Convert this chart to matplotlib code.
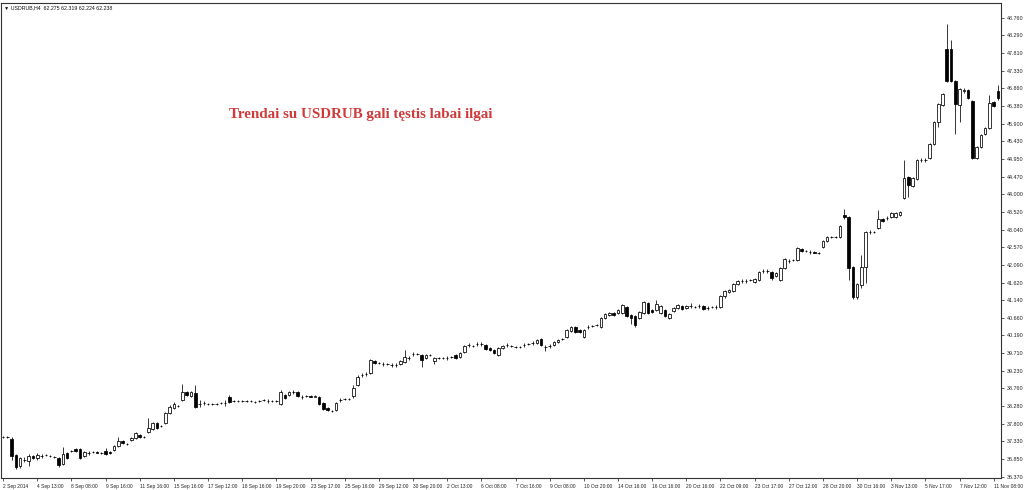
import numpy as np
import matplotlib
matplotlib.use("Agg")
import matplotlib.pyplot as plt

# Velas H4 USDRUB (preço)
aberturas = [
    37.45, 37.45, 37.39, 36.96, 36.66, 36.83, 36.80, 36.93, 36.88, 36.93,
    36.96, 36.94, 36.91, 36.88, 36.72, 37.02, 37.06, 37.12, 37.12, 36.93,
    37.02, 37.04, 37.04, 37.02, 37.07, 37.04, 37.10, 37.20, 37.34, 37.26,
    37.37, 37.42, 37.50, 37.45, 37.58, 37.66, 37.83, 37.74, 37.83, 38.10,
    38.23, 38.28, 38.45, 38.66, 38.55, 38.64, 38.34, 38.37, 38.34, 38.34,
    38.35, 38.37, 38.37, 38.53, 38.42, 38.42, 38.41, 38.42, 38.42, 38.39,
    38.42, 38.45, 38.42, 38.42, 38.42, 38.34, 38.58, 38.58, 38.66, 38.66,
    38.53, 38.55, 38.55, 38.54, 38.53, 38.37, 38.23, 38.15, 38.18, 38.45,
    38.47, 38.47, 38.55, 38.85, 39.12, 39.15, 39.18, 39.50, 39.45, 39.42,
    39.42, 39.39, 39.39, 39.42, 39.47, 39.58, 39.69, 39.69, 39.66, 39.58,
    39.66, 39.50, 39.58, 39.58, 39.59, 39.61, 39.66, 39.61, 39.74, 39.93,
    39.90, 39.96, 39.96, 39.93, 39.85, 39.80, 39.66, 39.85, 39.93, 39.90,
    39.88, 39.88, 39.93, 39.96, 39.99, 39.99, 40.09, 39.88, 39.90, 39.93,
    40.01, 40.09, 40.15, 40.31, 40.42, 40.34, 40.15, 40.42, 40.44, 40.47,
    40.42, 40.66, 40.74, 40.80, 40.80, 40.80, 40.96, 40.74, 40.71, 40.66,
    40.80, 41.07, 40.88, 40.88, 40.80, 40.88, 40.66, 40.85, 40.93, 40.98,
    40.93, 40.98, 40.96, 40.98, 40.98, 40.93, 40.96, 40.96, 40.96, 41.25,
    41.36, 41.39, 41.58, 41.66, 41.66, 41.69, 41.63, 41.69, 41.93, 41.93,
    41.90, 41.79, 41.69, 42.01, 42.20, 42.23, 42.23, 42.52, 42.47, 42.44,
    42.44, 42.42, 42.58, 42.74, 42.85, 42.85, 42.85, 43.44, 43.39, 42.04,
    41.23, 41.55, 42.04, 42.98, 42.98, 43.09, 43.33, 43.36, 43.39, 43.39,
    43.44, 43.90, 44.47, 44.22, 44.41, 44.93, 44.93, 44.98, 45.36, 45.95,
    46.41, 47.92, 47.92, 47.06, 46.41, 46.79, 46.82, 46.52, 44.98, 45.28,
    45.63, 45.79, 46.49, 46.80,
]
maximas = [
    37.47, 37.47, 37.45, 36.99, 36.91, 36.91, 36.99, 36.96, 37.02, 36.99,
    36.98, 36.96, 36.93, 36.91, 37.18, 37.04, 37.09, 37.15, 37.15, 37.07,
    37.07, 37.06, 37.06, 37.04, 37.15, 37.06, 37.23, 37.45, 37.36, 37.28,
    37.45, 37.58, 37.53, 37.47, 37.96, 37.85, 37.85, 37.77, 38.12, 38.31,
    38.39, 38.31, 38.88, 38.69, 38.69, 38.85, 38.45, 38.42, 38.36, 38.37,
    38.37, 38.39, 38.45, 38.58, 38.44, 38.44, 38.44, 38.44, 38.44, 38.41,
    38.44, 38.47, 38.47, 38.44, 38.44, 38.72, 38.61, 38.69, 38.72, 38.69,
    38.58, 38.57, 38.57, 38.57, 38.56, 38.39, 38.25, 38.17, 38.39, 38.50,
    38.49, 38.50, 38.85, 39.12, 39.18, 39.20, 39.55, 39.53, 39.47, 39.47,
    39.44, 39.44, 39.45, 39.53, 39.80, 39.64, 39.74, 39.71, 39.69, 39.69,
    39.68, 39.61, 39.60, 39.61, 39.64, 39.63, 39.69, 39.74, 39.93, 39.99,
    39.92, 40.01, 40.01, 39.96, 39.88, 39.82, 39.88, 39.93, 39.98, 39.92,
    39.90, 39.90, 39.98, 39.98, 40.04, 40.09, 40.12, 39.92, 39.95, 40.04,
    40.09, 40.11, 40.37, 40.45, 40.45, 40.37, 40.37, 40.47, 40.46, 40.49,
    40.69, 40.80, 40.83, 40.83, 40.90, 41.04, 40.99, 40.77, 40.74, 40.85,
    41.12, 41.09, 40.90, 41.15, 41.01, 40.90, 40.80, 40.96, 41.04, 41.01,
    41.01, 41.07, 40.98, 41.03, 41.01, 40.98, 40.98, 41.01, 41.28, 41.42,
    41.45, 41.61, 41.69, 41.71, 41.72, 41.71, 41.74, 41.93, 41.98, 41.99,
    41.93, 41.90, 42.04, 42.28, 42.25, 42.25, 42.58, 42.55, 42.49, 42.49,
    42.46, 42.44, 42.77, 42.88, 42.87, 42.88, 43.17, 43.60, 43.41, 42.06,
    41.61, 42.36, 43.01, 43.04, 43.00, 43.58, 43.36, 43.41, 43.52, 43.52,
    43.55, 44.93, 44.49, 44.47, 44.95, 44.98, 44.99, 45.39, 45.98, 46.47,
    46.74, 48.60, 48.17, 47.09, 46.87, 46.87, 46.85, 46.55, 45.31, 45.63,
    45.82, 46.68, 46.52, 46.95,
]
minimas = [
    37.42, 37.42, 36.83, 36.58, 36.61, 36.77, 36.66, 36.85, 36.83, 36.88,
    36.94, 36.91, 36.89, 36.64, 36.69, 36.85, 37.04, 37.04, 36.85, 36.91,
    36.96, 37.02, 37.01, 36.99, 36.96, 37.00, 37.07, 37.18, 37.26, 37.24,
    37.34, 37.39, 37.42, 37.43, 37.56, 37.64, 37.66, 37.72, 37.80, 38.07,
    38.20, 38.26, 38.42, 38.55, 38.53, 38.23, 38.26, 38.31, 38.32, 38.32,
    38.32, 38.35, 38.28, 38.37, 38.40, 38.39, 38.39, 38.40, 38.39, 38.37,
    38.40, 38.43, 38.36, 38.40, 38.39, 38.31, 38.47, 38.55, 38.61, 38.53,
    38.47, 38.53, 38.52, 38.52, 38.31, 38.18, 38.15, 38.13, 38.15, 38.39,
    38.45, 38.45, 38.50, 38.82, 39.07, 39.10, 39.15, 39.42, 39.43, 39.36,
    39.40, 39.34, 39.34, 39.39, 39.45, 39.53, 39.64, 39.66, 39.34, 39.55,
    39.64, 39.42, 39.56, 39.56, 39.53, 39.59, 39.55, 39.58, 39.72, 39.88,
    39.88, 39.91, 39.90, 39.80, 39.77, 39.69, 39.64, 39.82, 39.88, 39.88,
    39.86, 39.85, 39.88, 39.94, 39.94, 39.96, 39.90, 39.77, 39.85, 39.90,
    39.99, 40.07, 40.12, 40.28, 40.25, 40.25, 40.12, 40.37, 40.42, 40.45,
    40.39, 40.63, 40.71, 40.71, 40.77, 40.77, 40.68, 40.50, 40.42, 40.63,
    40.77, 40.77, 40.79, 40.85, 40.77, 40.68, 40.63, 40.82, 40.90, 40.87,
    40.90, 40.93, 40.94, 40.93, 40.87, 40.88, 40.94, 40.91, 40.93, 41.20,
    41.33, 41.36, 41.55, 41.61, 41.61, 41.67, 41.61, 41.66, 41.88, 41.88,
    41.69, 41.76, 41.66, 41.98, 42.15, 42.21, 42.20, 42.44, 42.45, 42.39,
    42.41, 42.40, 42.55, 42.72, 42.83, 42.83, 42.82, 43.33, 41.69, 41.17,
    41.17, 41.47, 41.61, 42.93, 42.96, 43.06, 43.25, 43.31, 43.36, 43.36,
    43.41, 43.87, 43.93, 44.19, 44.39, 44.88, 44.88, 44.95, 45.33, 45.82,
    46.38, 47.03, 47.03, 45.63, 45.95, 46.74, 46.57, 44.95, 44.95, 45.25,
    45.60, 45.76, 46.36, 46.55,
]
fechamentos = [
    37.45, 37.44, 36.93, 36.64, 36.88, 36.82, 36.93, 36.88, 36.96, 36.94,
    36.96, 36.93, 36.91, 36.69, 36.99, 36.88, 37.07, 37.07, 36.88, 37.04,
    37.01, 37.04, 37.03, 37.01, 36.99, 37.02, 37.20, 37.34, 37.29, 37.26,
    37.42, 37.56, 37.45, 37.45, 37.69, 37.83, 37.69, 37.75, 38.10, 38.26,
    38.34, 38.28, 38.66, 38.58, 38.66, 38.26, 38.33, 38.36, 38.34, 38.35,
    38.34, 38.37, 38.36, 38.39, 38.42, 38.41, 38.42, 38.42, 38.41, 38.39,
    38.42, 38.45, 38.41, 38.42, 38.41, 38.66, 38.50, 38.66, 38.67, 38.55,
    38.52, 38.55, 38.54, 38.55, 38.34, 38.20, 38.18, 38.15, 38.37, 38.44,
    38.47, 38.48, 38.77, 39.07, 39.13, 39.15, 39.53, 39.45, 39.45, 39.41,
    39.42, 39.39, 39.40, 39.50, 39.61, 39.59, 39.69, 39.68, 39.53, 39.66,
    39.66, 39.58, 39.58, 39.59, 39.58, 39.61, 39.58, 39.72, 39.90, 39.94,
    39.90, 39.96, 39.95, 39.82, 39.80, 39.72, 39.85, 39.90, 39.93, 39.90,
    39.88, 39.87, 39.93, 39.96, 39.99, 40.07, 39.93, 39.87, 39.90, 40.01,
    40.07, 40.09, 40.34, 40.42, 40.28, 40.28, 40.34, 40.42, 40.44, 40.47,
    40.66, 40.77, 40.80, 40.74, 40.88, 41.01, 40.71, 40.66, 40.47, 40.82,
    41.09, 40.80, 40.82, 41.04, 40.98, 40.71, 40.77, 40.93, 41.01, 40.90,
    40.98, 40.99, 40.96, 40.98, 40.90, 40.93, 40.96, 40.97, 41.25, 41.39,
    41.42, 41.58, 41.66, 41.66, 41.67, 41.69, 41.71, 41.90, 41.93, 41.94,
    41.74, 41.88, 42.01, 42.25, 42.20, 42.23, 42.55, 42.47, 42.47, 42.44,
    42.43, 42.42, 42.74, 42.85, 42.85, 42.86, 43.14, 43.39, 42.01, 41.23,
    41.58, 42.04, 42.98, 42.99, 42.98, 43.33, 43.28, 43.36, 43.50, 43.50,
    43.52, 44.44, 44.25, 44.44, 44.93, 44.93, 44.94, 45.36, 45.95, 46.44,
    46.71, 47.06, 47.06, 46.44, 46.84, 46.82, 46.60, 44.98, 45.28, 45.60,
    45.79, 46.47, 46.38, 46.60,
]

# Escala de preços (eixo direito) e rótulos de tempo (a cada 8 barras)
niveis_preco = [36.370, 36.850, 37.330, 37.800, 38.280, 38.760, 39.230,
                39.710, 40.190, 40.660, 41.140, 41.620, 42.090, 42.570,
                43.040, 43.520, 44.000, 44.470, 44.950, 45.430, 45.900,
                46.380, 46.860, 47.330, 47.810, 48.290, 48.760]
rotulos_tempo = ["2 Sep 2014", "4 Sep 13:00", "8 Sep 08:00", "9 Sep 16:00",
                 "11 Sep 16:00", "15 Sep 16:00", "17 Sep 12:00", "18 Sep 16:00",
                 "19 Sep 20:00", "23 Sep 17:00", "25 Sep 16:00", "29 Sep 12:00",
                 "30 Sep 20:00", "2 Oct 13:00", "6 Oct 08:00", "7 Oct 16:00",
                 "9 Oct 08:00", "10 Oct 20:00", "14 Oct 16:00", "16 Oct 16:00",
                 "20 Oct 16:00", "22 Oct 09:00", "23 Oct 17:00", "27 Oct 12:00",
                 "28 Oct 20:00", "30 Oct 16:00", "3 Nov 13:00", "5 Nov 17:00",
                 "7 Nov 12:00", "11 Nov 08:00"]
barras_por_rotulo = 8

titulo = "Trendai su USDRUB gali tęstis labai ilgai"
cabecalho = "▼ USDRUB,H4  62.275 62.319 62.224 62.238"

fonte_eixo = ["Liberation Sans", "DejaVu Sans"]


def desenhar_velas(ax, o, h, l, c):
    o, h, l, c = map(np.asarray, (o, h, l, c))
    x = np.arange(len(o))
    ax.vlines(x, l, h, color="black", linewidth=0.55, zorder=1)
    alta = c >= o
    base = np.minimum(o, c)
    altura = np.maximum(np.abs(c - o), 0.004)
    cores = np.where(alta, "white", "black")
    ax.bar(x, altura, bottom=base, width=0.6, color=cores,
           edgecolor="black", linewidth=0.55, zorder=2)


fig = plt.figure(figsize=(10.24, 4.9), dpi=100)
ax = fig.add_axes([1 / 1024, 12 / 490, 1000 / 1024, 475 / 490])

desenhar_velas(ax, aberturas, maximas, minimas, fechamentos)

ax.set_xlim(-0.5, len(aberturas) - 0.3)
ax.set_ylim(36.343, 49.165)

ax.yaxis.tick_right()
ax.set_yticks(niveis_preco)
ax.set_yticklabels([f"{v:.3f}" for v in niveis_preco])
ax.set_xticks(np.arange(len(rotulos_tempo)) * barras_por_rotulo)
ax.set_xticklabels(rotulos_tempo, ha="left")
ax.tick_params(axis="both", length=2.5, width=0.6, color="#444444",
               labelcolor="#222222", pad=1.5)
ax.tick_params(axis="y", labelsize=3.9)
ax.tick_params(axis="x", labelsize=3.5)
for t in ax.get_xticklabels() + ax.get_yticklabels():
    t.set_family(fonte_eixo)

for lado in ax.spines.values():
    lado.set_linewidth(0.8)
    lado.set_color("#333333")

ax.text(0.36, 0.765, titulo, transform=ax.transAxes, ha="center",
        va="center", fontsize=10.8, fontweight="bold", color="#cf3a3a",
        family=["Liberation Serif", "DejaVu Serif"])
fig.text(4 / 1024, 1 - 8 / 490, cabecalho, fontsize=3.8, va="center",
         ha="left", color="#111111", family=fonte_eixo)

fig.savefig("out.png", dpi=100, facecolor="white")
